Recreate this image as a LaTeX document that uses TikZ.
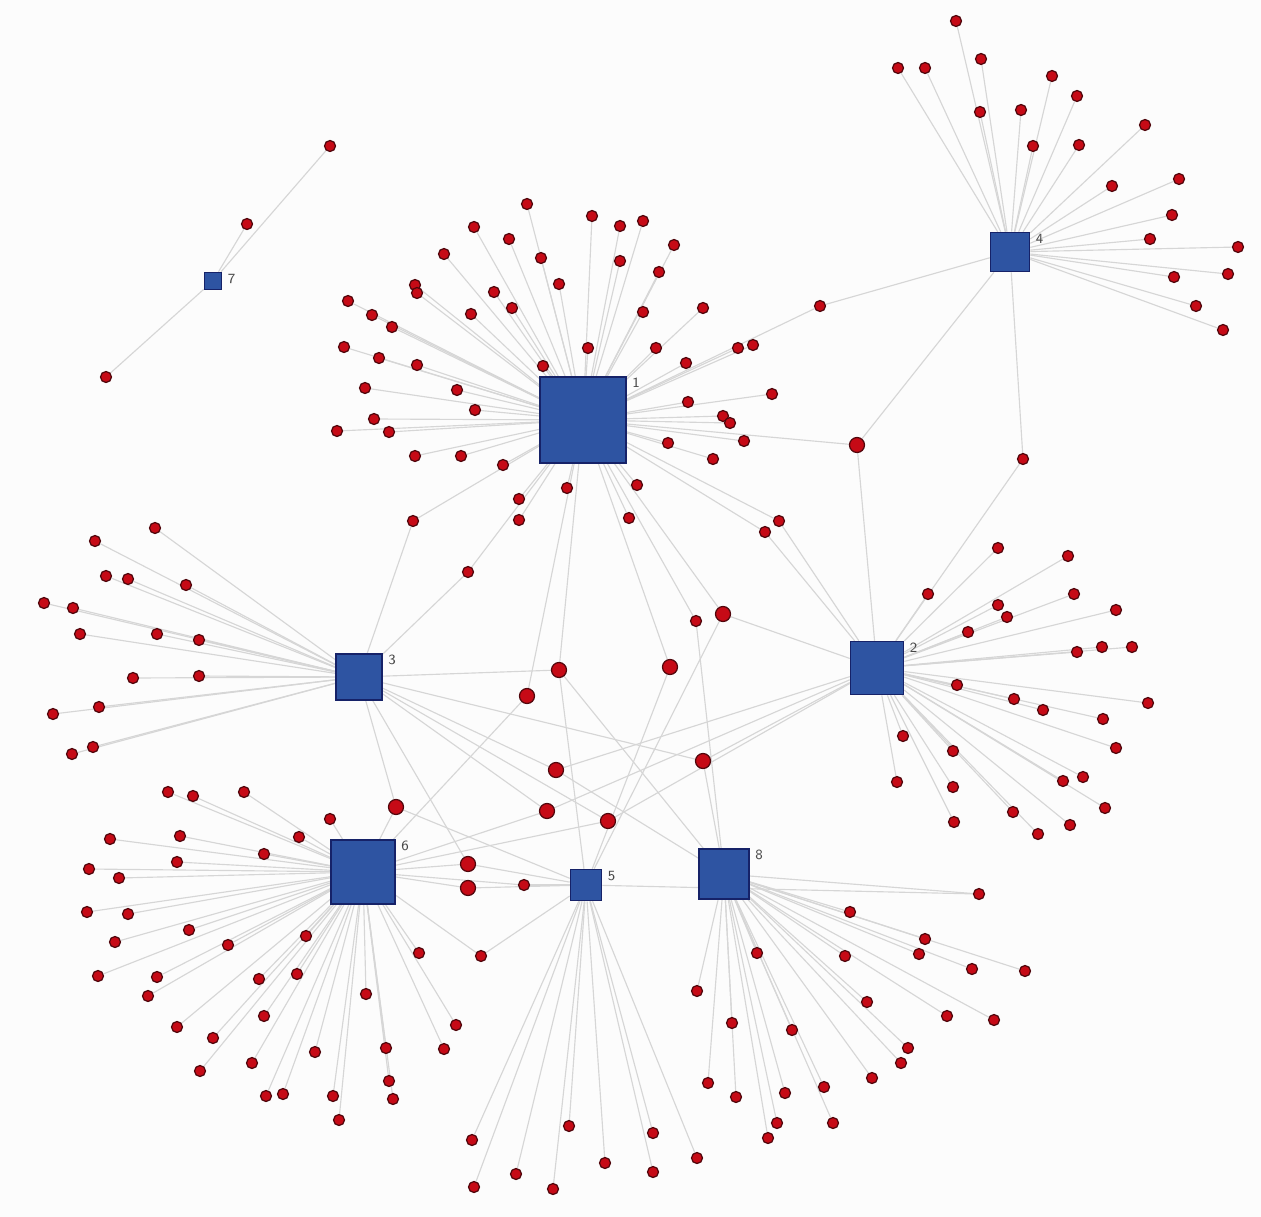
\documentclass[tikz,border=0pt]{standalone}
\usepackage{tikz}
\usetikzlibrary{positioning}
\definecolor{hubblue}{RGB}{46,84,162}
\definecolor{hubline}{RGB}{22,34,104}
\definecolor{leafred}{RGB}{198,10,22}
\definecolor{leafline}{RGB}{80,6,12}
\definecolor{linkgray}{RGB}{214,214,214}
\definecolor{lblgray}{RGB}{72,72,72}
\definecolor{paper}{RGB}{252,252,252}
\pgfdeclarelayer{back}
\pgfdeclarelayer{links}
\pgfsetlayers{back,links,main}

\begin{document}
\begin{tikzpicture}[x=0.02cm, y=-0.02cm,
  hub/.style={draw=hubline, fill=hubblue, line width=0.9pt, minimum size=#1, inner sep=0pt},
  leaf/.style={circle, draw=leafline, fill=leafred, line width=0.7pt, minimum size=0.22cm, inner sep=0pt},
  bigleaf/.style={leaf, minimum size=0.3cm},
  link/.style={draw=linkgray, line width=0.65pt},
  lbl/.style={font=\sffamily\fontsize{8}{9}\selectfont, text=lblgray, inner sep=1pt, anchor=north west}]

\begin{pgfonlayer}{back}
\fill[paper] (0,0) rectangle (1261,1217);
\end{pgfonlayer}
\useasboundingbox (0,0) rectangle (1261,1217);

% Hubs
\node[hub=1.72cm] (h1) at (583,420) {};
\node[hub=1.06cm] (h2) at (877,668) {};
\node[hub=0.92cm] (h3) at (359,677) {};
\node[hub=0.78cm] (h4) at (1010,252) {};
\node[hub=0.62cm] (h5) at (586,885) {};
\node[hub=1.28cm] (h6) at (363,872) {};
\node[hub=0.34cm] (h7) at (213,281) {};
\node[hub=1.00cm] (h8) at (724,874) {};

% Hub labels
\foreach \k in {1,...,8}
  \node[lbl] (l\k) at ([xshift=2pt]h\k.north east) {\k};

% Hub 1
\foreach \x/\y [count=\i] in {527/204, 592/216, 620/226, 643/221, 474/227, 509/239,
    541/258, 620/261, 674/245, 444/254, 659/272, 559/284, 494/292, 471/314, 512/308,
    643/312, 703/308, 588/348, 656/348, 738/348, 753/345, 686/363, 543/366, 457/390,
    772/394, 688/402, 415/285, 417/293, 348/301, 372/315, 392/327, 344/347, 379/358,
    417/365, 365/388, 337/431, 374/419, 389/432, 415/456, 475/410, 461/456, 503/465,
    519/499, 519/520, 567/488, 637/485, 629/518, 668/443, 713/459, 744/441, 723/416,
    730/423} {
  \node[leaf] (a\i) at (\x,\y) {};
  \begin{pgfonlayer}{links}\draw[link] (h1) -- (a\i);\end{pgfonlayer}
}

% Hub 2
\foreach \x/\y [count=\i] in {998/548, 1068/556, 928/594, 1074/594, 998/605, 1007/617,
    1116/610, 968/632, 1077/652, 1102/647, 1132/647, 957/685, 1148/703, 1014/699,
    1043/710, 1103/719, 1116/748, 903/736, 953/751, 897/782, 953/787, 1063/781,
    1083/777, 1013/812, 1105/808, 954/822, 1038/834, 1070/825} {
  \node[leaf] (b\i) at (\x,\y) {};
  \begin{pgfonlayer}{links}\draw[link] (h2) -- (b\i);\end{pgfonlayer}
}

% Hub 3
\foreach \x/\y [count=\i] in {155/528, 95/541, 106/576, 128/579, 186/585, 44/603,
    73/608, 80/634, 157/634, 199/640, 133/678, 199/676, 53/714, 99/707, 72/754,
    93/747} {
  \node[leaf] (c\i) at (\x,\y) {};
  \begin{pgfonlayer}{links}\draw[link] (h3) -- (c\i);\end{pgfonlayer}
}

% Hub 4
\foreach \x/\y [count=\i] in {956/21, 981/59, 898/68, 925/68, 1052/76, 1077/96,
    980/112, 1021/110, 1145/125, 1033/146, 1079/145, 1112/186, 1179/179, 1172/215,
    1150/239, 1238/247, 1228/274, 1174/277, 1196/306, 1223/330} {
  \node[leaf] (d\i) at (\x,\y) {};
  \begin{pgfonlayer}{links}\draw[link] (h4) -- (d\i);\end{pgfonlayer}
}

% Hub 5
\foreach \x/\y [count=\i] in {569/1126, 653/1133, 472/1140, 605/1163, 653/1172,
    697/1158, 516/1174, 474/1187, 553/1189} {
  \node[leaf] (e\i) at (\x,\y) {};
  \begin{pgfonlayer}{links}\draw[link] (h5) -- (e\i);\end{pgfonlayer}
}

% Hub 6
\foreach \x/\y [count=\i] in {330/819, 110/839, 180/836, 299/837, 264/854, 177/862,
    89/869, 119/878, 87/912, 128/914, 189/930, 228/945, 306/936, 115/942, 98/976,
    157/977, 148/996, 259/979, 297/974, 366/994, 419/953, 264/1016, 177/1027,
    213/1038, 315/1052, 386/1048, 252/1063, 200/1071, 389/1081, 393/1099, 266/1096,
    283/1094, 333/1096, 339/1120, 168/792, 193/796, 244/792, 456/1025, 444/1049} {
  \node[leaf] (f\i) at (\x,\y) {};
  \begin{pgfonlayer}{links}\draw[link] (h6) -- (f\i);\end{pgfonlayer}
}

% Hub 7
\foreach \x/\y [count=\i] in {330/146, 247/224, 106/377} {
  \node[leaf] (g\i) at (\x,\y) {};
  \begin{pgfonlayer}{links}\draw[link] (h7) -- (g\i);\end{pgfonlayer}
}

% Hub 8
\foreach \x/\y [count=\i] in {757/953, 697/991, 732/1023, 792/1030, 708/1083,
    736/1097, 785/1093, 824/1087, 777/1123, 768/1138, 833/1123, 850/912, 925/939,
    919/954, 845/956, 972/969, 1025/971, 867/1002, 947/1016, 994/1020, 908/1048,
    901/1063, 872/1078} {
  \node[leaf] (k\i) at (\x,\y) {};
  \begin{pgfonlayer}{links}\draw[link] (h8) -- (k\i);\end{pgfonlayer}
}

% Shared leaves
\node[leaf] (s1) at (820,306) {};
\node[bigleaf] (s2) at (857,445) {};
\node[leaf] (s3) at (1023,459) {};
\node[leaf] (s4) at (779,521) {};
\node[leaf] (s5) at (765,532) {};
\node[leaf] (s6) at (413,521) {};
\node[leaf] (s7) at (468,572) {};
\node[leaf] (s8) at (696,621) {};
\node[bigleaf] (s9) at (723,614) {};
\node[bigleaf] (s10) at (559,670) {};
\node[bigleaf] (s11) at (670,667) {};
\node[bigleaf] (s12) at (527,696) {};
\node[bigleaf] (s13) at (703,761) {};
\node[bigleaf] (s14) at (556,770) {};
\node[bigleaf] (s15) at (547,811) {};
\node[bigleaf] (s16) at (608,821) {};
\node[bigleaf] (s17) at (396,807) {};
\node[bigleaf] (s18) at (468,864) {};
\node[bigleaf] (s19) at (468,888) {};
\node[leaf] (s20) at (524,885) {};
\node[leaf] (s21) at (481,956) {};
\node[leaf] (s22) at (979,894) {};

\begin{pgfonlayer}{links}
\foreach \s/\h in {s1/h1, s1/h4, s2/h1, s2/h4, s2/h2, s3/h4, s3/h2, s4/h1, s4/h2,
    s5/h1, s5/h2, s6/h1, s6/h3, s7/h1, s7/h3, s8/h1, s8/h8, s9/h1, s9/h2, s9/h5,
    s10/h1, s10/h3, s10/h5, s10/h8, s11/h1, s11/h5, s12/h1, s12/h6, s13/h2, s13/h3,
    s13/h8, s14/h3, s14/h8, s14/h2, s15/h2, s15/h6, s15/h3, s16/h2, s16/h6, s16/h3,
    s17/h3, s17/h6, s17/h5, s18/h6, s18/h5, s18/h3, s19/h6, s19/h5, s20/h6, s20/h5,
    s21/h6, s21/h5, s22/h8, s22/h5}
  \draw[link] (\s) -- (\h);
\end{pgfonlayer}
\end{tikzpicture}
\end{document}
